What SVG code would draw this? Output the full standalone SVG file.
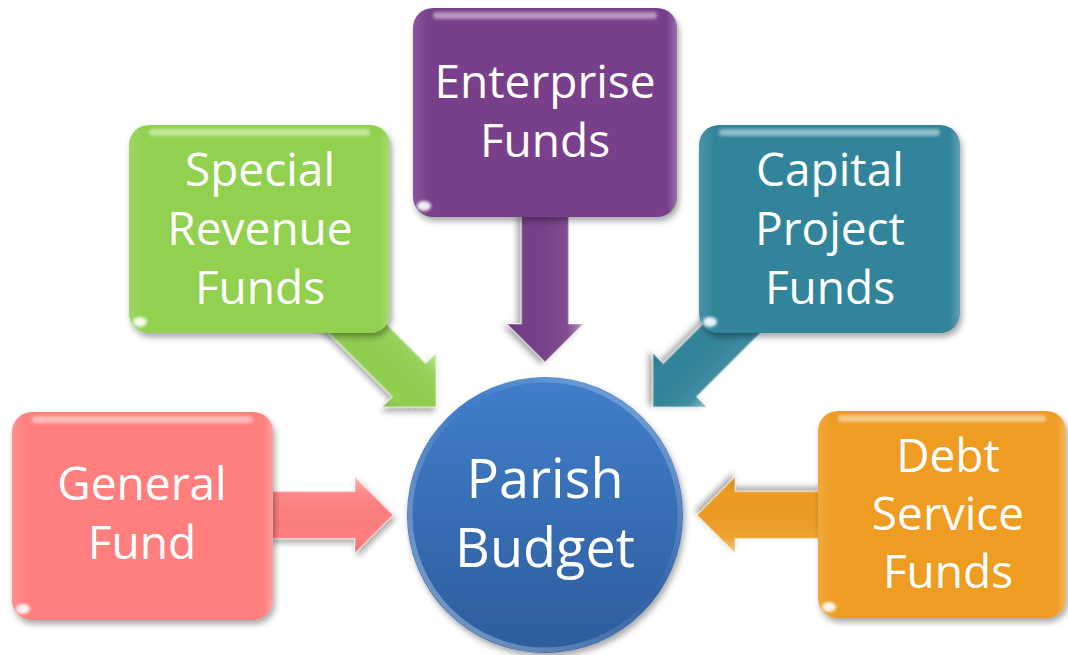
<svg xmlns="http://www.w3.org/2000/svg" width="1068" height="655" viewBox="0 0 1068 655">
  <defs>
    <filter id="shadow" x="-20%" y="-20%" width="140%" height="140%">
      <feDropShadow dx="2" dy="4" stdDeviation="3" flood-color="#000" flood-opacity="0.35"/>
    </filter>
    <filter id="soft" x="-50%" y="-50%" width="200%" height="200%">
      <feGaussianBlur stdDeviation="1.5"/>
    </filter>
    <linearGradient id="arrowShade" x1="0" y1="0" x2="0" y2="1">
      <stop offset="0" stop-color="#fff" stop-opacity="0.45"/>
      <stop offset="0.2" stop-color="#fff" stop-opacity="0.08"/>
      <stop offset="0.8" stop-color="#000" stop-opacity="0"/>
      <stop offset="1" stop-color="#000" stop-opacity="0.12"/>
    </linearGradient>
    <linearGradient id="boxShade" x1="0" y1="0" x2="1" y2="0">
      <stop offset="0" stop-color="#fff" stop-opacity="0.12"/>
      <stop offset="0.06" stop-color="#fff" stop-opacity="0"/>
      <stop offset="0.96" stop-color="#fff" stop-opacity="0"/>
      <stop offset="1" stop-color="#fff" stop-opacity="0.25"/>
    </linearGradient>
    <linearGradient id="circleFill" x1="0" y1="0" x2="0" y2="1">
      <stop offset="0" stop-color="#417FCB"/>
      <stop offset="1" stop-color="#2D5C9C"/>
    </linearGradient>
    <linearGradient id="circleRim" x1="1" y1="0" x2="0" y2="1">
      <stop offset="0" stop-color="#ffffff" stop-opacity="0.35"/>
      <stop offset="0.45" stop-color="#ffffff" stop-opacity="0"/>
      <stop offset="1" stop-color="#CFE2F8" stop-opacity="0.5"/>
    </linearGradient>
    <path id="arrowLong" d="M0,0 L-38,-38 L-38,-23.5 L-150,-23.5 L-150,23.5 L-38,23.5 L-38,38 Z"/>
    <path id="arrowShort" d="M0,0 L-38,-38 L-38,-23.5 L-125,-23.5 L-125,23.5 L-38,23.5 L-38,38 Z"/>
  </defs>
  <style>
    .lbl { font-family: "Open Sans", "Liberation Sans", sans-serif; font-size: 46px; fill: #ffffff; text-anchor: middle; }
    .big { font-size: 54px; }
    .hl { fill: #ffffff; opacity: 0.45; filter: url(#soft); }
    .dot { fill: #ffffff; opacity: 0.9; filter: url(#soft); }
    .shade { fill: url(#boxShade); }
    .ashade { fill: url(#arrowShade); stroke: #ffffff; stroke-opacity: 0.35; stroke-width: 1.5; }
  </style>

  <g id="connectors">
    <g id="arrow-general" transform="translate(393,515)" filter="url(#shadow)">
      <use href="#arrowShort" fill="#FF7F7F"/>
      <use href="#arrowShort" class="ashade"/>
    </g>
    <g id="arrow-special" transform="translate(436,407) rotate(45)" filter="url(#shadow)">
      <use href="#arrowLong" fill="#92D050"/>
      <use href="#arrowLong" class="ashade"/>
    </g>
    <g id="arrow-enterprise" transform="translate(545,362) rotate(90)" filter="url(#shadow)">
      <use href="#arrowLong" fill="#783F8A"/>
      <use href="#arrowLong" class="ashade"/>
    </g>
    <g id="arrow-capital" transform="translate(653,407) rotate(135)" filter="url(#shadow)">
      <use href="#arrowLong" fill="#31849B"/>
      <use href="#arrowLong" class="ashade"/>
    </g>
    <g id="arrow-debt" transform="translate(697,515) rotate(180)" filter="url(#shadow)">
      <use href="#arrowShort" fill="#EE9C22"/>
      <use href="#arrowShort" class="ashade"/>
    </g>
  </g>

  <g id="node-general">
    <rect x="12" y="412" width="261" height="208" rx="20" fill="#FF7F7F" filter="url(#shadow)"/>
    <rect x="12" y="412" width="261" height="208" rx="20" class="shade"/>
    <rect x="32" y="416" width="221" height="7" rx="3.5" class="hl"/>
    <ellipse cx="23" cy="609" rx="7" ry="5" class="dot"/>
    <text class="lbl" x="142" y="500">General</text>
    <text class="lbl" x="142" y="559">Fund</text>
  </g>

  <g id="node-special">
    <rect x="129" y="125" width="261" height="208" rx="20" fill="#92D050" filter="url(#shadow)"/>
    <rect x="129" y="125" width="261" height="208" rx="20" class="shade"/>
    <rect x="149" y="129" width="221" height="7" rx="3.5" class="hl"/>
    <ellipse cx="140" cy="322" rx="7" ry="5" class="dot"/>
    <text class="lbl" x="260" y="186">Special</text>
    <text class="lbl" x="260" y="245">Revenue</text>
    <text class="lbl" x="260" y="304">Funds</text>
  </g>

  <g id="node-enterprise">
    <rect x="413" y="8" width="264" height="209" rx="20" fill="#783F8A" filter="url(#shadow)"/>
    <rect x="413" y="8" width="264" height="209" rx="20" class="shade"/>
    <rect x="433" y="12" width="224" height="7" rx="3.5" class="hl"/>
    <ellipse cx="424" cy="206" rx="7" ry="5" class="dot"/>
    <text class="lbl" x="545" y="98">Enterprise</text>
    <text class="lbl" x="545" y="157">Funds</text>
  </g>

  <g id="node-capital">
    <rect x="699" y="125" width="261" height="208" rx="20" fill="#31849B" filter="url(#shadow)"/>
    <rect x="699" y="125" width="261" height="208" rx="20" class="shade"/>
    <rect x="719" y="129" width="221" height="7" rx="3.5" class="hl"/>
    <ellipse cx="710" cy="322" rx="7" ry="5" class="dot"/>
    <text class="lbl" x="830" y="186">Capital</text>
    <text class="lbl" x="830" y="245">Project</text>
    <text class="lbl" x="830" y="304">Funds</text>
  </g>

  <g id="node-debt">
    <rect x="818" y="411" width="248" height="207" rx="20" fill="#EE9C22" filter="url(#shadow)"/>
    <rect x="818" y="411" width="248" height="207" rx="20" class="shade"/>
    <rect x="838" y="415" width="208" height="7" rx="3.5" class="hl"/>
    <ellipse cx="829" cy="607" rx="7" ry="5" class="dot"/>
    <text class="lbl" x="948" y="472">Debt</text>
    <text class="lbl" x="948" y="530">Service</text>
    <text class="lbl" x="948" y="588">Funds</text>
  </g>

  <g id="node-parish">
    <circle cx="545" cy="515" r="138" fill="url(#circleFill)" filter="url(#shadow)"/>
    <circle cx="545" cy="515" r="135" fill="none" stroke="url(#circleRim)" stroke-width="5"/>
    <text class="lbl big" x="545" y="498">Parish</text>
    <text class="lbl big" x="545" y="567">Budget</text>
  </g>
</svg>
